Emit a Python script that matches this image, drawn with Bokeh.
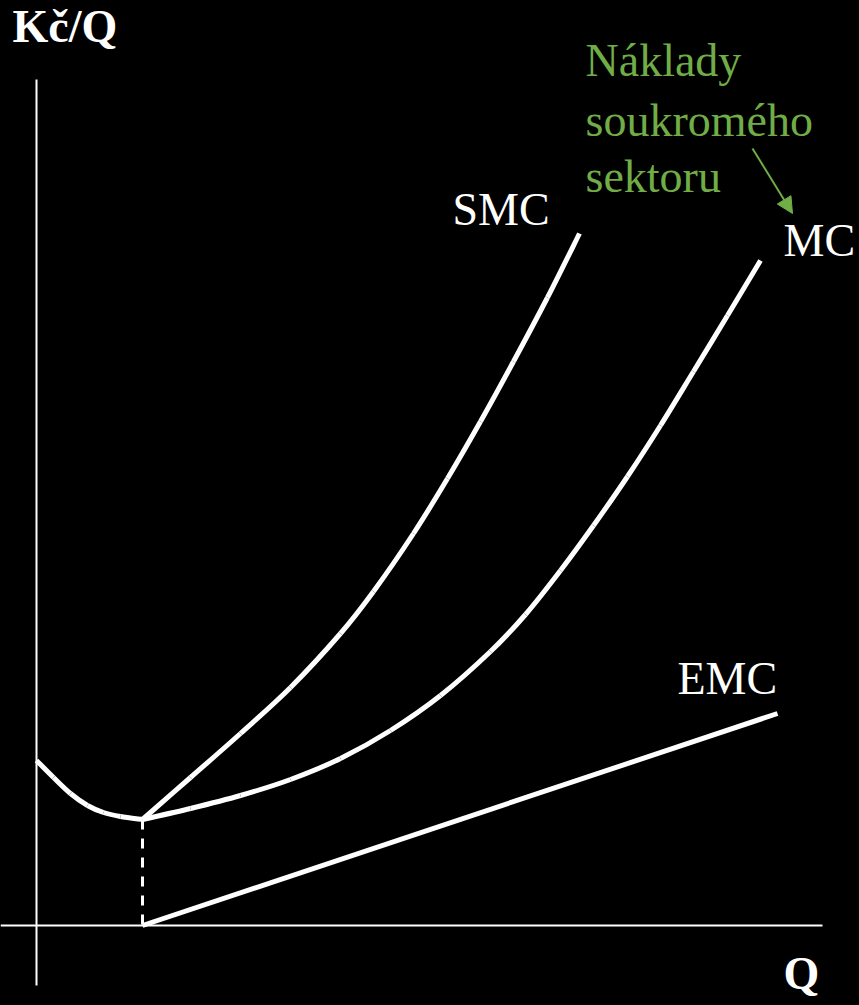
from bokeh.plotting import figure
from bokeh.models import Range1d, Arrow, NormalHead
from bokeh.core.properties import value
from bokeh.embed import file_html
from bokeh.resources import INLINE

# ---- data (Q units on x, Kč/Q units on y) ----
ac_x = [0.0, 1.7, 3.4, 5.1, 6.7, 8.4, 10.6]
ac_y = [16.5, 14.8, 13.2, 12.0, 11.3, 10.9, 10.6]

smc_x = [10.6, 15.4, 20.4, 25.4, 30.4, 33.7, 37.7, 41.1, 44.4, 47.7, 51.1, 54.3]
smc_y = [10.6, 14.8, 19.2, 23.8, 29.2, 33.4, 39.2, 44.7, 50.4, 56.4, 62.8, 69.2]

mc_x = [10.6, 15.4, 20.4, 25.4, 30.4, 35.4, 40.4, 45.4, 48.9, 52.4, 55.7, 59.1, 62.4, 65.7, 69.1, 72.4]
mc_y = [10.6, 11.7, 13.0, 14.6, 16.7, 19.5, 23.0, 27.4, 31.1, 35.5, 40.0, 44.9, 50.0, 55.4, 61.0, 66.5]

emc_x = [10.6, 74.1]
emc_y = [0.0, 21.2]

q_min = 10.6          # quantity of the dashed drop line
q_min_cost = 10.6

y_axis_x = [0.0, 0.0]
y_axis_y = [-6.0, 84.6]
x_axis_x = [-3.6, 78.6]
x_axis_y = [0.0, 0.0]

curve_labels = ["SMC", "MC", "EMC"]
curve_label_x = [41.6, 74.7, 64.1]
curve_label_y = [71.6, 68.5, 24.7]

axis_labels = ["Kč/Q", "Q"]
axis_label_x = [-2.4, 74.7]
axis_label_y = [89.9, -4.8]

note_lines = ["Náklady", "soukromého", "sektoru"]
note_x = [54.9, 54.9, 54.9]
note_y = [86.5, 80.5, 74.9]

arrow_start = (71.6, 77.7)
arrow_end = (75.6, 71.2)

GREEN = "#70AD47"
FONT = value("Liberation Serif, Times New Roman, serif")


def smooth_segments(xs, ys):
    """Catmull-Rom through the read points, expressed as cubic Bezier segments."""
    n = len(xs)
    px = [xs[0]] + list(xs) + [xs[-1]]
    py = [ys[0]] + list(ys) + [ys[-1]]
    out = {k: [] for k in ("x0", "y0", "x1", "y1", "cx0", "cy0", "cx1", "cy1")}
    for i in range(1, n):
        out["x0"].append(px[i]); out["y0"].append(py[i])
        out["x1"].append(px[i + 1]); out["y1"].append(py[i + 1])
        out["cx0"].append(px[i] + (px[i + 1] - px[i - 1]) / 6)
        out["cy0"].append(py[i] + (py[i + 1] - py[i - 1]) / 6)
        out["cx1"].append(px[i + 1] - (px[i + 2] - px[i]) / 6)
        out["cy1"].append(py[i + 1] - (py[i + 2] - py[i]) / 6)
    return out


p = figure(width=859, height=1005, output_backend="svg", toolbar_location=None,
           x_range=Range1d(-3.6, 82.3), y_range=Range1d(-8.0, 92.5),
           min_border=0, outline_line_color=None)
p.background_fill_color = "black"
p.border_fill_color = "black"
p.axis.visible = False
p.grid.visible = False

# axes
p.line(y_axis_x, y_axis_y, line_color="white", line_width=2)
p.line(x_axis_x, x_axis_y, line_color="white", line_width=2)

# curves
for xs, ys in ((ac_x, ac_y), (smc_x, smc_y), (mc_x, mc_y)):
    p.bezier(**smooth_segments(xs, ys), line_color="white", line_width=5)
p.line(emc_x, emc_y, line_color="white", line_width=5)

# dashed drop line
p.line([q_min, q_min], [q_min_cost, 0.0], line_color="white", line_width=3,
       line_dash="10 9")

# labels
p.text(curve_label_x, curve_label_y, text=curve_labels, text_color="white",
       text_font=FONT, text_font_size="46px", text_baseline="alphabetic",
       text_align="left")
p.text(axis_label_x, axis_label_y, text=axis_labels, text_color="white",
       text_font=FONT, text_font_size="46px", text_font_style="bold",
       text_baseline="alphabetic", text_align="left")
p.text(note_x, note_y, text=note_lines, text_color=GREEN,
       text_font=FONT, text_font_size="46px", text_baseline="alphabetic",
       text_align="left")

p.add_layout(Arrow(x_start=arrow_start[0], y_start=arrow_start[1],
                   x_end=arrow_end[0], y_end=arrow_end[1],
                   line_color=GREEN, line_width=2,
                   end=NormalHead(size=16, fill_color=GREEN, line_color=GREEN)))

html = file_html(p, INLINE).replace("<body>", '<body style="background:black">')
open("out.html", "w").write(html)
